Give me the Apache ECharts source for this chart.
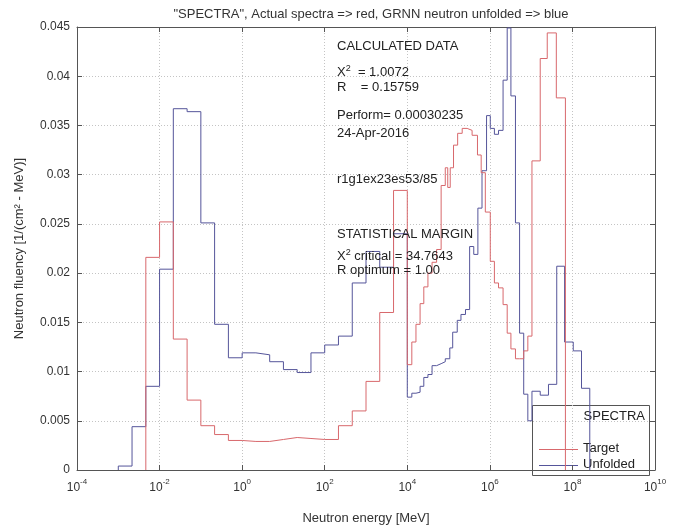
<!DOCTYPE html>
<html>
<head>
<meta charset="utf-8">
<script src="https://cdn.jsdelivr.net/npm/echarts@6/dist/echarts.min.js"></script>
<style>
  html, body { margin: 0; padding: 0; background: #fff; }
  #chart { width: 682px; height: 530px; }
</style>
</head>
<body>
<div id="chart"></div>
<script>
// bin edges are log10(E / MeV); each value belongs to the bin starting at the same index
const redEdges = [-2.333, -2, -1.667, -1.333, -1, -0.667, -0.333, 0, 0.333, 0.667, 1, 1.333, 1.667,
  2, 2.333, 2.667, 3, 3.333, 3.667, 4.0, 4.11, 4.21, 4.31, 4.40, 4.50, 4.60, 4.71, 4.82, 4.92,
  4.98, 5.04, 5.12, 5.22, 5.33, 5.45, 5.57, 5.70, 5.79, 5.89, 6.01, 6.11, 6.21, 6.32, 6.42, 6.51,
  6.62, 6.72, 6.82, 6.92, 7.02, 7.22, 7.39, 7.61, 7.83]
const redValues = [0.0216, 0.0252, 0.0133, 0.0071, 0.0045, 0.0036, 0.0030, 0.0029, 0.0029, 0.0031,
  0.0033, 0.0032, 0.0031, 0.0031, 0.0045, 0.0060, 0.0090, 0.0160, 0.0284, 0.0107, 0.0130, 0.0148,
  0.0169, 0.0186, 0.0200, 0.0211, 0.0224, 0.0289, 0.0307, 0.0287, 0.0307, 0.0330, 0.0342, 0.0347,
  0.0345, 0.0340, 0.0320, 0.0302, 0.0262, 0.0212, 0.0190, 0.0185, 0.0168, 0.0139, 0.0123, 0.0113,
  0.0113, 0.0121, 0.0136, 0.0314, 0.0418, 0.0444, 0.0378]

const blueEdges = [-3, -2.667, -2.333, -2, -1.667, -1.333, -1, -0.667, -0.333, 0, 0.333, 0.667, 1,
  1.333, 1.667, 2, 2.333, 2.667, 3, 3.333, 3.667, 4.0, 4.11, 4.21, 4.31, 4.40, 4.50, 4.60, 4.71,
  4.82, 4.92, 5.03, 5.10, 5.21, 5.30, 5.41, 5.51, 5.61, 5.71, 5.81, 5.92, 6.01, 6.11, 6.21, 6.32,
  6.42, 6.51, 6.62, 6.72, 6.82, 6.92, 7.02, 7.22, 7.42, 7.62, 7.81, 8.02, 8.22, 8.42]
const blueValues = [0.0004, 0.0044, 0.0085, 0.0204, 0.0367, 0.0364, 0.0251, 0.0148, 0.0114, 0.0119,
  0.0117, 0.0110, 0.0102, 0.0099, 0.0119, 0.0127, 0.0136, 0.0190, 0.0222, 0.0206, 0.0240, 0.0074,
  0.0078, 0.0079, 0.0085, 0.0094, 0.0097, 0.0106, 0.0108, 0.0110, 0.0113, 0.0124, 0.0140, 0.0152,
  0.0158, 0.0163, 0.0227, 0.0219, 0.0266, 0.0304, 0.0360, 0.0347, 0.0341, 0.0345, 0.0396, 0.0449,
  0.0380, 0.0251, 0.0139, 0.0077, 0.0050, 0.0080, 0.0076, 0.0087, 0.0207, 0.0130, 0.0121, 0.0083]

const notes = [
  ['CALCULATED DATA', 48],
  ['X{s|2}  = 1.0072', 72],
  ['R    = 0.15759', 89],
  ['Perform= 0.00030235', 117],
  ['24-Apr-2016', 135],
  ['r1g1ex23es53/85', 181],
  ['STATISTICAL MARGIN', 236],
  ['X{s|2} critical = 34.7643', 256],
  ['R optimum = 1.00', 272],
]

const FONT = '"Liberation Sans", Arial, sans-serif'
const RED = '#d8686c'
const BLUE = '#55559a'

// histogram outline: rise at first edge, flat over each bin, drop at last edge
function steps(edges, values) {
  const pts = [[edges[0], 0]]
  values.forEach((v, i) => pts.push([edges[i], v]))
  const last = edges[edges.length - 1]
  pts.push([last, values[values.length - 1]])
  pts.push([last, 0])
  return pts
}

const chart = echarts.init(document.getElementById('chart'))

const boxAxis = {
  axisLine: { show: true, onZero: false, lineStyle: { color: '#555', width: 1 } },
  axisTick: { show: true, inside: true, length: 5, lineStyle: { color: '#555' } },
}

chart.setOption({
  animation: false,
  backgroundColor: '#fff',
  textStyle: { fontFamily: FONT },
  grid: { left: 77, right: 27, top: 27, bottom: 49, containLabel: false },
  xAxis: [
    {
      type: 'value', min: -4, max: 10, interval: 2,
      ...boxAxis,
      name: 'Neutron energy [MeV]',
      nameLocation: 'middle',
      nameGap: 42,
      nameTextStyle: { fontSize: 13, color: '#333', fontFamily: FONT },
      splitLine: { show: true, lineStyle: { color: '#c4c4c4', type: [1, 2] } },
      axisLabel: {
        margin: 8,
        formatter: (v) => '{b|10}{e|' + v + '}',
        rich: {
          b: { fontSize: 12, color: '#333', fontFamily: FONT, verticalAlign: 'bottom' },
          e: { fontSize: 8, color: '#333', fontFamily: FONT, verticalAlign: 'bottom', padding: [0, 0, 8, 0] },
        },
      },
    },
    {
      type: 'value', min: -4, max: 10, interval: 2, position: 'top',
      ...boxAxis,
      axisLabel: { show: false }, splitLine: { show: false },
    },
  ],
  yAxis: [
    {
      type: 'value', min: 0, max: 0.045, interval: 0.005,
      ...boxAxis,
      name: 'Neutron fluency [1/(cm² - MeV)]',
      nameLocation: 'middle',
      nameGap: 51,
      nameTextStyle: { fontSize: 13, color: '#333', fontFamily: FONT },
      splitLine: { show: true, lineStyle: { color: '#c4c4c4', type: [1, 2] } },
      axisLabel: { fontSize: 12, color: '#333', margin: 7, formatter: (v) => String(+v.toFixed(3)) },
    },
    {
      type: 'value', min: 0, max: 0.045, interval: 0.005, position: 'right',
      ...boxAxis,
      axisLabel: { show: false }, splitLine: { show: false },
    },
  ],
  title: {
    text: '"SPECTRA", Actual spectra => red, GRNN neutron unfolded => blue',
    left: 366, top: 3, textAlign: 'center',
    textStyle: { fontSize: 13, fontWeight: 'normal', color: '#333', fontFamily: FONT },
  },
  series: [
    {
      name: 'Target', type: 'line', step: 'end', symbol: 'none',
      data: steps(redEdges, redValues),
      lineStyle: { color: RED, width: 1 },
      z: 3,
    },
    {
      name: 'Unfolded', type: 'line', step: 'end', symbol: 'none',
      data: steps(blueEdges, blueValues),
      lineStyle: { color: BLUE, width: 1 },
      z: 2,
    },
  ],
  graphic: [
    ...notes.map(([t, y]) => ({
      type: 'text', left: 337, top: y - 8, z: 50,
      style: {
        text: t, fill: '#222', font: '13px ' + FONT,
        rich: { s: { fontSize: 9, fill: '#222', fontFamily: FONT, padding: [0, 0, 8, 0], verticalAlign: 'bottom' } },
      },
    })),
    {
      type: 'group', z: 100,
      children: [
        { type: 'rect', shape: { x: 532.5, y: 405.5, width: 117, height: 70 },
          style: { fill: '#fff', stroke: '#555', lineWidth: 1 } },
        { type: 'text', x: 645, y: 410, style: { text: 'SPECTRA', fill: '#222', font: '13px ' + FONT, textAlign: 'right' } },
        { type: 'line', shape: { x1: 539, y1: 449.5, x2: 578, y2: 449.5 }, style: { stroke: RED, lineWidth: 1 } },
        { type: 'line', shape: { x1: 539, y1: 465.5, x2: 578, y2: 465.5 }, style: { stroke: BLUE, lineWidth: 1 } },
        { type: 'text', x: 583, y: 442, style: { text: 'Target', fill: '#222', font: '13px ' + FONT } },
        { type: 'text', x: 583, y: 458, style: { text: 'Unfolded', fill: '#222', font: '13px ' + FONT } },
      ],
    },
  ],
})
</script>
</body>
</html>
